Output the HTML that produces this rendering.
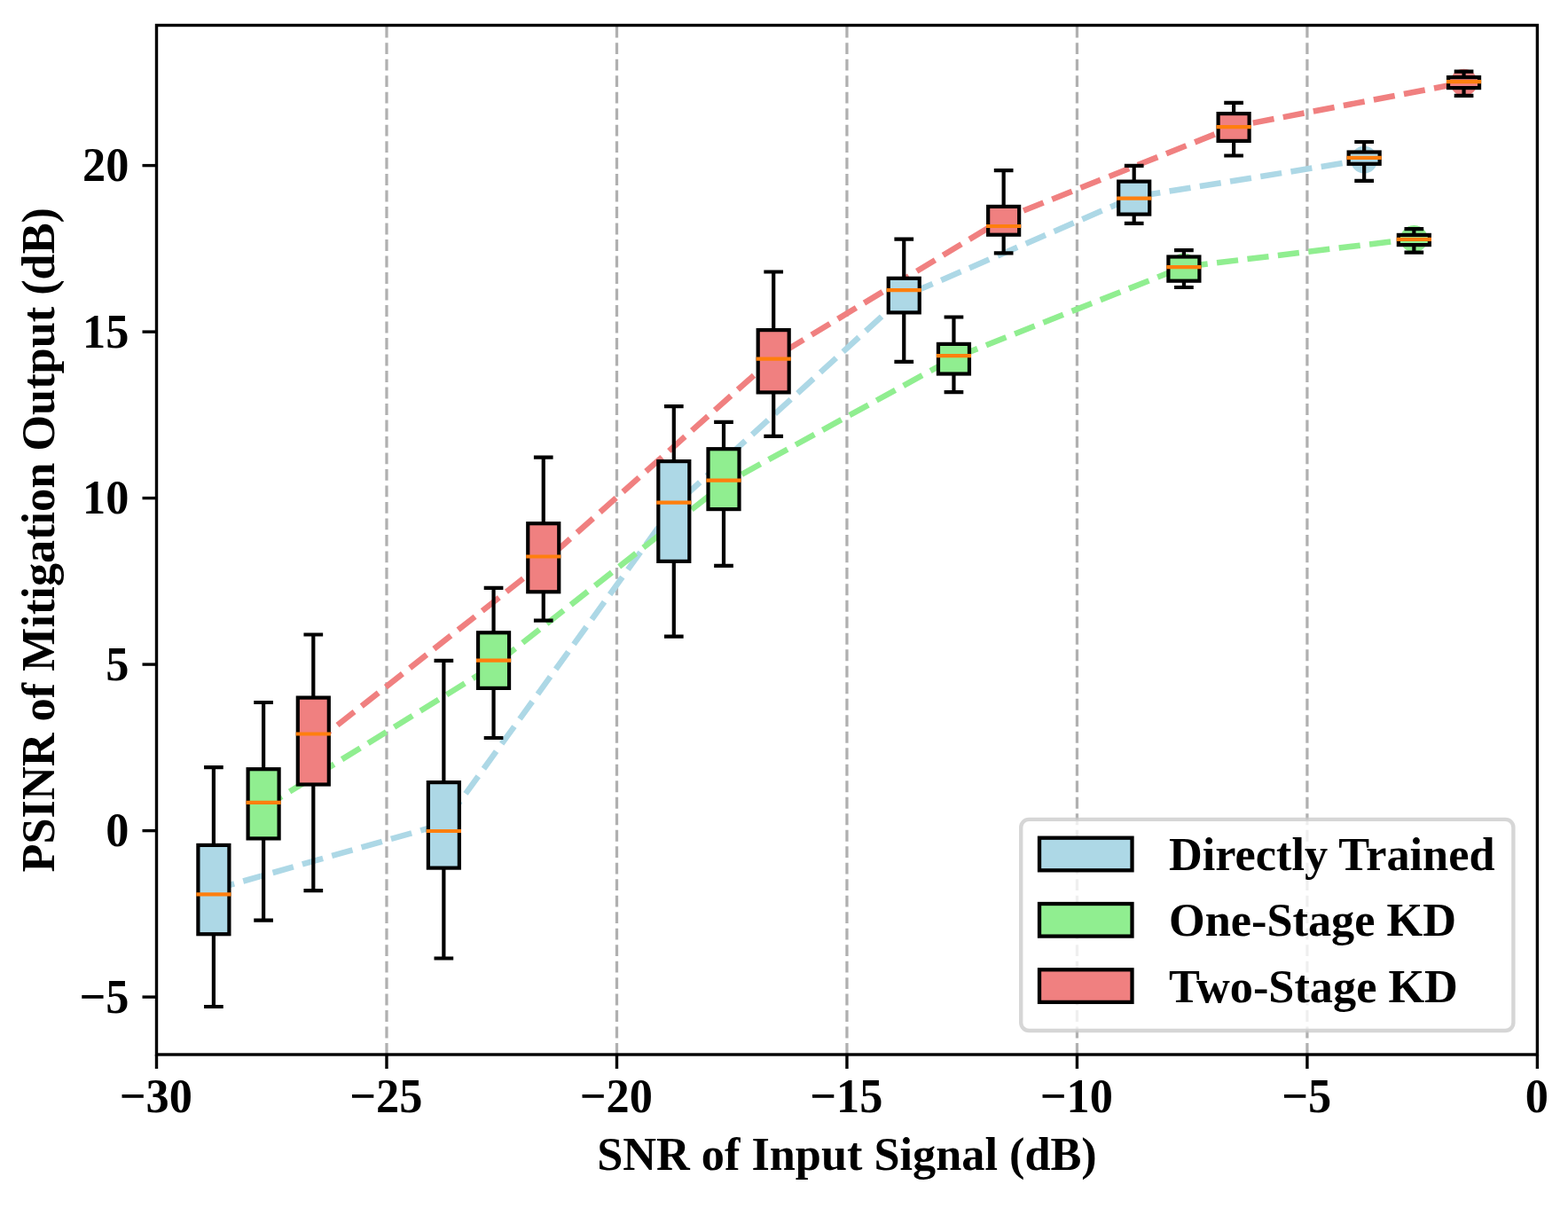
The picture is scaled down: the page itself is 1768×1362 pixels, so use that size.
<!DOCTYPE html>
<html lang="en"><head><meta charset="utf-8"><title>PSINR of Mitigation Output vs SNR of Input Signal</title>
<style>html,body{margin:0;padding:0;background:#fff}svg{display:block}text{font-family:"Liberation Serif","DejaVu Serif",serif;font-weight:bold;fill:#000}</style></head><body>
<svg width="1768" height="1362" viewBox="0 0 1768 1362">
<rect width="1768" height="1362" fill="#fff"/>
<defs><clipPath id="ax"><rect x="176.5" y="28.5" width="1556.9" height="1160.5"/></clipPath></defs>
<g clip-path="url(#ax)">
<line x1="435.98" y1="1189.0" x2="435.98" y2="28.5" stroke="#b0b0b0" stroke-opacity="1" stroke-width="3.25" stroke-dasharray="12.91 5.58"/>
<line x1="695.47" y1="1189.0" x2="695.47" y2="28.5" stroke="#b0b0b0" stroke-opacity="1" stroke-width="3.25" stroke-dasharray="12.91 5.58"/>
<line x1="954.95" y1="1189.0" x2="954.95" y2="28.5" stroke="#b0b0b0" stroke-opacity="1" stroke-width="3.25" stroke-dasharray="12.91 5.58"/>
<line x1="1214.43" y1="1189.0" x2="1214.43" y2="28.5" stroke="#b0b0b0" stroke-opacity="1" stroke-width="3.25" stroke-dasharray="12.91 5.58"/>
<line x1="1473.92" y1="1189.0" x2="1473.92" y2="28.5" stroke="#b0b0b0" stroke-opacity="1" stroke-width="3.25" stroke-dasharray="12.91 5.58"/>
<polyline points="240.90,1003.00 500.35,929.00 759.80,570.50 1019.25,334.00 1278.70,222.00 1538.15,180.10" fill="none" stroke="#ADD8E6" stroke-width="6.540000000000001" stroke-dasharray="24.20 10.46" stroke-linejoin="round"/>
<circle cx="240.90" cy="1003.00" r="15.3" fill="#ADD8E6"/>
<circle cx="500.35" cy="929.00" r="15.3" fill="#ADD8E6"/>
<circle cx="759.80" cy="570.50" r="15.3" fill="#ADD8E6"/>
<circle cx="1019.25" cy="334.00" r="15.3" fill="#ADD8E6"/>
<circle cx="1278.70" cy="222.00" r="15.3" fill="#ADD8E6"/>
<circle cx="1538.15" cy="180.10" r="15.3" fill="#ADD8E6"/>
<polyline points="297.10,910.80 556.55,750.50 816.00,546.00 1075.45,403.70 1334.90,300.80 1594.35,269.30" fill="none" stroke="#90EE90" stroke-width="6.540000000000001" stroke-dasharray="24.20 10.46" stroke-linejoin="round"/>
<circle cx="297.10" cy="910.80" r="15.3" fill="#90EE90"/>
<circle cx="556.55" cy="750.50" r="15.3" fill="#90EE90"/>
<circle cx="816.00" cy="546.00" r="15.3" fill="#90EE90"/>
<circle cx="1075.45" cy="403.70" r="15.3" fill="#90EE90"/>
<circle cx="1334.90" cy="300.80" r="15.3" fill="#90EE90"/>
<circle cx="1594.35" cy="269.30" r="15.3" fill="#90EE90"/>
<polyline points="353.30,839.00 612.75,634.30 872.20,403.50 1131.65,246.50 1391.10,142.80 1650.55,93.00" fill="none" stroke="#F08080" stroke-width="6.540000000000001" stroke-dasharray="24.20 10.46" stroke-linejoin="round"/>
<circle cx="353.30" cy="839.00" r="15.3" fill="#F08080"/>
<circle cx="612.75" cy="634.30" r="15.3" fill="#F08080"/>
<circle cx="872.20" cy="403.50" r="15.3" fill="#F08080"/>
<circle cx="1131.65" cy="246.50" r="15.3" fill="#F08080"/>
<circle cx="1391.10" cy="142.80" r="15.3" fill="#F08080"/>
<circle cx="1650.55" cy="93.00" r="15.3" fill="#F08080"/>
<g stroke="#000" stroke-width="4.2" fill="none">
<path d="M240.90 952.90V865.10M240.90 1053.20V1135.00"/>
<path d="M232.15 865.10H249.65M232.15 1135.00H249.65" stroke-linecap="square"/>
<rect x="223.40" y="952.90" width="35.00" height="100.30" fill="#ADD8E6"/>
<path d="M223.40 1008.30H258.40" stroke="#FF7F0E" stroke-linecap="square"/>
</g>
<g stroke="#000" stroke-width="4.2" fill="none">
<path d="M500.35 882.10V744.90M500.35 978.60V1080.50"/>
<path d="M491.60 744.90H509.10M491.60 1080.50H509.10" stroke-linecap="square"/>
<rect x="482.85" y="882.10" width="35.00" height="96.50" fill="#ADD8E6"/>
<path d="M482.85 937.00H517.85" stroke="#FF7F0E" stroke-linecap="square"/>
</g>
<g stroke="#000" stroke-width="4.2" fill="none">
<path d="M759.80 520.10V458.10M759.80 632.90V717.60"/>
<path d="M751.05 458.10H768.55M751.05 717.60H768.55" stroke-linecap="square"/>
<rect x="742.30" y="520.10" width="35.00" height="112.80" fill="#ADD8E6"/>
<path d="M742.30 566.70H777.30" stroke="#FF7F0E" stroke-linecap="square"/>
</g>
<g stroke="#000" stroke-width="4.2" fill="none">
<path d="M1019.25 313.80V269.70M1019.25 352.40V407.90"/>
<path d="M1010.50 269.70H1028.00M1010.50 407.90H1028.00" stroke-linecap="square"/>
<rect x="1001.75" y="313.80" width="35.00" height="38.60" fill="#ADD8E6"/>
<path d="M1001.75 327.20H1036.75" stroke="#FF7F0E" stroke-linecap="square"/>
</g>
<g stroke="#000" stroke-width="4.2" fill="none">
<path d="M1278.70 204.60V186.90M1278.70 241.60V251.90"/>
<path d="M1269.95 186.90H1287.45M1269.95 251.90H1287.45" stroke-linecap="square"/>
<rect x="1261.20" y="204.60" width="35.00" height="37.00" fill="#ADD8E6"/>
<path d="M1261.20 223.60H1296.20" stroke="#FF7F0E" stroke-linecap="square"/>
</g>
<g stroke="#000" stroke-width="4.2" fill="none">
<path d="M1538.15 171.50V160.00M1538.15 184.80V203.90"/>
<path d="M1529.40 160.00H1546.90M1529.40 203.90H1546.90" stroke-linecap="square"/>
<rect x="1520.65" y="171.50" width="35.00" height="13.30" fill="#ADD8E6"/>
<path d="M1520.65 177.80H1555.65" stroke="#FF7F0E" stroke-linecap="square"/>
</g>
<g stroke="#000" stroke-width="4.2" fill="none">
<path d="M297.10 867.20V792.00M297.10 945.40V1037.70"/>
<path d="M288.35 792.00H305.85M288.35 1037.70H305.85" stroke-linecap="square"/>
<rect x="279.60" y="867.20" width="35.00" height="78.20" fill="#90EE90"/>
<path d="M279.60 904.80H314.60" stroke="#FF7F0E" stroke-linecap="square"/>
</g>
<g stroke="#000" stroke-width="4.2" fill="none">
<path d="M556.55 713.30V662.80M556.55 775.90V832.00"/>
<path d="M547.80 662.80H565.30M547.80 832.00H565.30" stroke-linecap="square"/>
<rect x="539.05" y="713.30" width="35.00" height="62.60" fill="#90EE90"/>
<path d="M539.05 744.70H574.05" stroke="#FF7F0E" stroke-linecap="square"/>
</g>
<g stroke="#000" stroke-width="4.2" fill="none">
<path d="M816.00 506.20V475.90M816.00 574.10V637.90"/>
<path d="M807.25 475.90H824.75M807.25 637.90H824.75" stroke-linecap="square"/>
<rect x="798.50" y="506.20" width="35.00" height="67.90" fill="#90EE90"/>
<path d="M798.50 541.60H833.50" stroke="#FF7F0E" stroke-linecap="square"/>
</g>
<g stroke="#000" stroke-width="4.2" fill="none">
<path d="M1075.45 387.90V357.50M1075.45 421.50V442.10"/>
<path d="M1066.70 357.50H1084.20M1066.70 442.10H1084.20" stroke-linecap="square"/>
<rect x="1057.95" y="387.90" width="35.00" height="33.60" fill="#90EE90"/>
<path d="M1057.95 401.20H1092.95" stroke="#FF7F0E" stroke-linecap="square"/>
</g>
<g stroke="#000" stroke-width="4.2" fill="none">
<path d="M1334.90 289.50V282.20M1334.90 316.70V324.00"/>
<path d="M1326.15 282.20H1343.65M1326.15 324.00H1343.65" stroke-linecap="square"/>
<rect x="1317.40" y="289.50" width="35.00" height="27.20" fill="#90EE90"/>
<path d="M1317.40 301.20H1352.40" stroke="#FF7F0E" stroke-linecap="square"/>
</g>
<g stroke="#000" stroke-width="4.2" fill="none">
<path d="M1594.35 264.90V258.10M1594.35 276.10V284.60"/>
<path d="M1585.60 258.10H1603.10M1585.60 284.60H1603.10" stroke-linecap="square"/>
<rect x="1576.85" y="264.90" width="35.00" height="11.20" fill="#90EE90"/>
<path d="M1576.85 269.90H1611.85" stroke="#FF7F0E" stroke-linecap="square"/>
</g>
<g stroke="#000" stroke-width="4.2" fill="none">
<path d="M353.30 786.60V715.50M353.30 884.50V1004.20"/>
<path d="M344.55 715.50H362.05M344.55 1004.20H362.05" stroke-linecap="square"/>
<rect x="335.80" y="786.60" width="35.00" height="97.90" fill="#F08080"/>
<path d="M335.80 827.50H370.80" stroke="#FF7F0E" stroke-linecap="square"/>
</g>
<g stroke="#000" stroke-width="4.2" fill="none">
<path d="M612.75 590.20V515.70M612.75 667.30V699.70"/>
<path d="M604.00 515.70H621.50M604.00 699.70H621.50" stroke-linecap="square"/>
<rect x="595.25" y="590.20" width="35.00" height="77.10" fill="#F08080"/>
<path d="M595.25 627.50H630.25" stroke="#FF7F0E" stroke-linecap="square"/>
</g>
<g stroke="#000" stroke-width="4.2" fill="none">
<path d="M872.20 372.10V306.50M872.20 442.40V491.80"/>
<path d="M863.45 306.50H880.95M863.45 491.80H880.95" stroke-linecap="square"/>
<rect x="854.70" y="372.10" width="35.00" height="70.30" fill="#F08080"/>
<path d="M854.70 404.70H889.70" stroke="#FF7F0E" stroke-linecap="square"/>
</g>
<g stroke="#000" stroke-width="4.2" fill="none">
<path d="M1131.65 232.90V192.10M1131.65 264.70V285.30"/>
<path d="M1122.90 192.10H1140.40M1122.90 285.30H1140.40" stroke-linecap="square"/>
<rect x="1114.15" y="232.90" width="35.00" height="31.80" fill="#F08080"/>
<path d="M1114.15 255.00H1149.15" stroke="#FF7F0E" stroke-linecap="square"/>
</g>
<g stroke="#000" stroke-width="4.2" fill="none">
<path d="M1391.10 128.10V115.80M1391.10 158.90V175.50"/>
<path d="M1382.35 115.80H1399.85M1382.35 175.50H1399.85" stroke-linecap="square"/>
<rect x="1373.60" y="128.10" width="35.00" height="30.80" fill="#F08080"/>
<path d="M1373.60 143.20H1408.60" stroke="#FF7F0E" stroke-linecap="square"/>
</g>
<g stroke="#000" stroke-width="4.2" fill="none">
<path d="M1650.55 87.10V80.60M1650.55 99.10V107.80"/>
<path d="M1641.80 80.60H1659.30M1641.80 107.80H1659.30" stroke-linecap="square"/>
<rect x="1633.05" y="87.10" width="35.00" height="12.00" fill="#F08080"/>
<path d="M1633.05 92.10H1668.05" stroke="#FF7F0E" stroke-linecap="square"/>
</g>
</g>
<g stroke="#000" stroke-width="3.4">
<line x1="176.50" y1="1189.0" x2="176.50" y2="1205.00"/>
<line x1="435.98" y1="1189.0" x2="435.98" y2="1205.00"/>
<line x1="695.47" y1="1189.0" x2="695.47" y2="1205.00"/>
<line x1="954.95" y1="1189.0" x2="954.95" y2="1205.00"/>
<line x1="1214.43" y1="1189.0" x2="1214.43" y2="1205.00"/>
<line x1="1473.92" y1="1189.0" x2="1473.92" y2="1205.00"/>
<line x1="1733.40" y1="1189.0" x2="1733.40" y2="1205.00"/>
<line x1="176.5" y1="1124.10" x2="160.50" y2="1124.10"/>
<line x1="176.5" y1="936.60" x2="160.50" y2="936.60"/>
<line x1="176.5" y1="749.10" x2="160.50" y2="749.10"/>
<line x1="176.5" y1="561.60" x2="160.50" y2="561.60"/>
<line x1="176.5" y1="374.10" x2="160.50" y2="374.10"/>
<line x1="176.5" y1="186.60" x2="160.50" y2="186.60"/>
</g>
<rect x="176.5" y="28.5" width="1556.9" height="1160.5" fill="none" stroke="#000" stroke-width="3.4" stroke-linejoin="miter"/>
<g font-size="52.3" text-anchor="middle">
<text transform="translate(175.80 1254) scale(1 1.042)">−30</text>
<text transform="translate(435.28 1254) scale(1 1.042)">−25</text>
<text transform="translate(694.77 1254) scale(1 1.042)">−20</text>
<text transform="translate(954.25 1254) scale(1 1.042)">−15</text>
<text transform="translate(1213.73 1254) scale(1 1.042)">−10</text>
<text transform="translate(1473.22 1254) scale(1 1.042)">−5</text>
<text transform="translate(1732.70 1254) scale(1 1.042)">0</text>
</g>
<g font-size="52.3" text-anchor="end">
<text transform="translate(145.4 1141.70) scale(1 1.042)">−5</text>
<text transform="translate(145.4 954.20) scale(1 1.042)">0</text>
<text transform="translate(145.4 766.70) scale(1 1.042)">5</text>
<text transform="translate(145.4 579.20) scale(1 1.042)">10</text>
<text transform="translate(145.4 391.70) scale(1 1.042)">15</text>
<text transform="translate(145.4 204.20) scale(1 1.042)">20</text>
</g>
<text transform="translate(954.95 1319.3) scale(1 1.025)" font-size="52.3" text-anchor="middle">SNR of Input Signal (dB)</text>
<text transform="translate(61.0 608.75) rotate(-90) scale(1 1.025)" font-size="52.3" text-anchor="middle">PSINR of Mitigation Output (dB)</text>
<rect x="1151.2" y="923.9" width="555.20" height="238.10" rx="9" ry="9" fill="#fff" fill-opacity="0.8" stroke="#ccc" stroke-opacity="0.8" stroke-width="4.36"/>
<rect x="1172" y="944.70" width="104.5" height="36.6" fill="#ADD8E6" stroke="#000" stroke-width="4.3"/>
<text x="1318" y="980.90" font-size="52.3">Directly Trained</text>
<rect x="1172" y="1019.00" width="104.5" height="36.6" fill="#90EE90" stroke="#000" stroke-width="4.3"/>
<text x="1318" y="1055.20" font-size="52.3">One-Stage KD</text>
<rect x="1172" y="1093.30" width="104.5" height="36.6" fill="#F08080" stroke="#000" stroke-width="4.3"/>
<text x="1318" y="1129.50" font-size="52.3">Two-Stage KD</text>
</svg></body></html>
